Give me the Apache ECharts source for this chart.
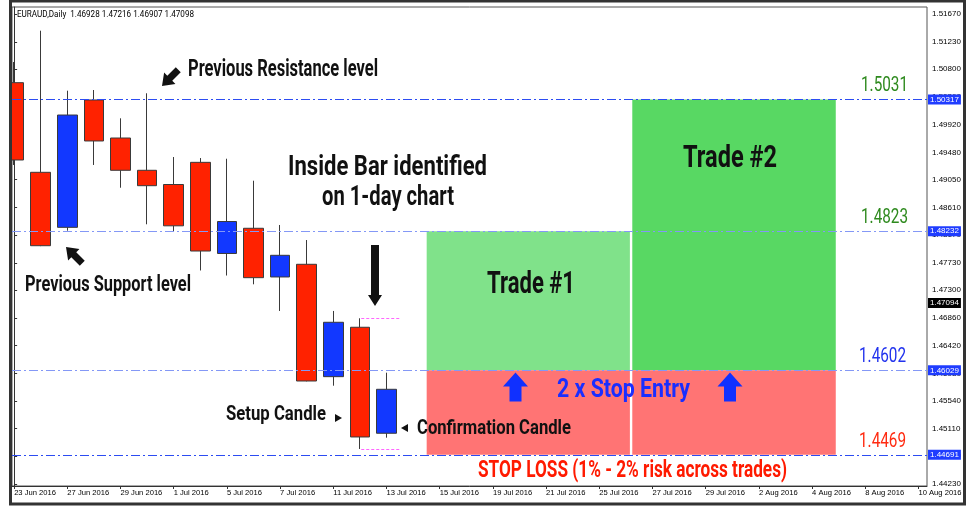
<!DOCTYPE html>
<html>
<head>
<meta charset="utf-8">
<title>EURAUD Daily - Inside Bar</title>
<script src="https://cdn.jsdelivr.net/npm/echarts@6/dist/echarts.min.js"></script>
<style>
  html, body { margin: 0; padding: 0; background: #fff; }
  #chart { width: 967px; height: 506px; }
</style>
</head>
<body>
<div id="chart"></div>
<script>
// trading days on the time axis (one slot per day, labels every 2nd day)
const dates = [
  '23 Jun 2016', '24 Jun 2016', '27 Jun 2016', '28 Jun 2016', '29 Jun 2016', '30 Jun 2016',
  '1 Jul 2016', '4 Jul 2016', '5 Jul 2016', '6 Jul 2016', '7 Jul 2016', '8 Jul 2016',
  '11 Jul 2016', '12 Jul 2016', '13 Jul 2016', '14 Jul 2016', '15 Jul 2016', '18 Jul 2016',
  '19 Jul 2016', '20 Jul 2016', '21 Jul 2016', '22 Jul 2016', '25 Jul 2016', '26 Jul 2016',
  '27 Jul 2016', '28 Jul 2016', '29 Jul 2016', '1 Aug 2016', '2 Aug 2016', '3 Aug 2016',
  '4 Aug 2016', '5 Aug 2016', '8 Aug 2016', '9 Aug 2016', '10 Aug 2016'
];

// daily candles: [open, close, low, high]
const candles = [
  [1.50583, 1.49359, 1.49280, 1.50910],
  [1.49164, 1.48002, 1.47995, 1.51406],
  [1.48293, 1.50071, 1.48240, 1.50456],
  [1.50309, 1.49660, 1.49280, 1.50467],
  [1.49707, 1.49196, 1.48920, 1.50019],
  [1.49196, 1.48952, 1.48341, 1.50415],
  [1.48971, 1.48317, 1.48227, 1.49406],
  [1.49322, 1.47918, 1.47610, 1.49390],
  [1.47879, 1.48385, 1.47530, 1.49379],
  [1.48278, 1.47496, 1.47391, 1.49031],
  [1.47507, 1.47850, 1.46969, 1.48330],
  [1.47708, 1.45860, 1.45855, 1.48092],
  [1.45929, 1.46790, 1.45786, 1.46969],
  [1.46711, 1.44974, 1.44784, 1.46853],
  [1.45033, 1.45729, 1.44963, 1.45992]
];

// price scale tick labels
const priceTicks = [
  1.51670, 1.51230, 1.50800, 1.50360, 1.49920, 1.49480, 1.49050, 1.48610, 1.48170,
  1.47730, 1.47300, 1.46860, 1.46420, 1.45980, 1.45540, 1.45110, 1.44670, 1.44230
];

// horizontal levels: resistance/target 2, support/target 1, entry, stop loss
const levelValues = [1.50317, 1.48232, 1.46029, 1.44691];
const levelTexts = ['1.5031', '1.4823', '1.4602', '1.4469'];
const currentPrice = 1.47094;
const setupIndex = 13;

// trade boxes along the time axis (in day slots)
const trade1Span = [15.51, 23.15];
const trade2Span = [23.24, 30.89];

const lineColors = ['#2c4cf2', '#8498f6', '#8498f6', '#2c4cf2'];
const textColors = ['#2e8a1e', '#2e8a1e', '#2233ee', '#ff2a10'];

const chart = echarts.init(document.getElementById('chart'), null, { renderer: 'canvas' });

const dayTicks = dates.map((d, i) => i).filter(i => i % 2 === 0);
const setupHigh = candles[setupIndex][3];
const setupLow = candles[setupIndex][2];

const pinkLine = { color: '#ff66ff', type: [3, 2], width: 1 };
const priceBox = (v, bg) => ({
  show: true, position: 'end', distance: 1, formatter: v.toFixed(5),
  backgroundColor: bg, color: '#fff', fontSize: 8, fontFamily: 'Liberation Sans',
  padding: [1, 2, 1, 2]
});

const option = {
  animation: false,
  grid: {
    left: 12, right: 40, top: 7, bottom: 20,
    show: true, borderColor: '#555', borderWidth: 1
  },
  xAxis: {
    type: 'value', min: -0.08, max: 34.32,
    splitLine: { show: false },
    axisLine: { lineStyle: { color: '#333' } },
    axisTick: { customValues: dayTicks, length: 3, lineStyle: { color: '#333' } },
    axisLabel: {
      customValues: dayTicks, formatter: v => dates[v], align: 'left',
      fontSize: 7.6, fontFamily: 'Liberation Sans', color: '#000', margin: 3
    }
  },
  yAxis: {
    type: 'value', position: 'right', min: 1.44198, max: 1.51781,
    splitLine: { show: false },
    axisLine: { show: true, lineStyle: { color: '#333' } },
    axisTick: { show: true, customValues: priceTicks, length: 3, lineStyle: { color: '#333' } },
    axisLabel: {
      customValues: priceTicks, formatter: v => v.toFixed(5),
      fontSize: 8, fontFamily: 'Liberation Sans', color: '#000', margin: 5
    }
  },
  series: [
    {
      type: 'candlestick',
      data: candles.map((c, i) => [i, c[0], c[1], c[2], c[3]]),
      encode: { x: 0, y: [1, 2, 3, 4] },
      barWidth: 20,
      clip: true,
      itemStyle: {
        color: '#1238ff', color0: '#ff2200',
        borderColor: '#3a3a3a', borderColor0: '#3a3a3a', borderWidth: 1
      }
    },
    {
      type: 'line', data: [], silent: true,
      markArea: {
        silent: true,
        data: [
          [{ xAxis: trade1Span[0], yAxis: levelValues[1], itemStyle: { color: '#80e28a' } },
           { xAxis: trade1Span[1], yAxis: levelValues[2] }],
          [{ xAxis: trade2Span[0], yAxis: levelValues[0], itemStyle: { color: '#58d863' } },
           { xAxis: trade2Span[1], yAxis: levelValues[2] }],
          [{ xAxis: trade1Span[0], yAxis: levelValues[2], itemStyle: { color: '#ff7474' } },
           { xAxis: trade1Span[1], yAxis: levelValues[3] }],
          [{ xAxis: trade2Span[0], yAxis: levelValues[2], itemStyle: { color: '#ff7474' } },
           { xAxis: trade2Span[1], yAxis: levelValues[3] }]
        ]
      },
      markLine: {
        silent: true, symbol: 'none', precision: 5,
        data: levelValues.map((v, i) => ({
          yAxis: v,
          lineStyle: { color: lineColors[i], type: [9, 3, 2, 3], width: 1 },
          label: priceBox(v, '#1f3cff')
        })).concat([
          { yAxis: currentPrice, lineStyle: { color: 'rgba(0,0,0,0)', width: 0 }, label: priceBox(currentPrice, '#000') },
          [{ coord: [setupIndex + 0.05, setupHigh], lineStyle: pinkLine, label: { show: false } },
           { coord: [setupIndex + 1.55, setupHigh] }],
          [{ coord: [setupIndex + 0.05, setupLow], lineStyle: pinkLine, label: { show: false } },
           { coord: [setupIndex + 1.55, setupLow] }]
        ])
      }
    }
  ]
};

chart.setOption(option);

// annotations: condensed headline text, squeezed to the widths in the picture
const ctx = document.createElement('canvas').getContext('2d');
const FONT = 'Roboto, "Liberation Sans", sans-serif';

function note(text, x, y, width, size, color, align, weight) {
  weight = weight || 'bold';
  ctx.font = weight + ' ' + size + 'px ' + FONT;
  const sx = width / ctx.measureText(text).width;
  return {
    type: 'text', x: x, y: y, scaleX: sx, z: 100, silent: true,
    style: {
      text: text, fill: color, align: align || 'left', verticalAlign: 'middle',
      fontSize: size, fontFamily: FONT, fontWeight: weight
    }
  };
}

function arrow(x, y, rot, L, hw, hl, sw, color) {
  return {
    type: 'polygon', x: x, y: y, rotation: rot, z: 100, silent: true,
    shape: { points: [[0, 0], [hw, hl], [sw, hl], [sw, L], [-sw, L], [-sw, hl], [-hw, hl]] },
    style: { fill: color }
  };
}

const graphics = [
  // the first candle is cut by the left edge of the chart window
  { type: 'rect', z: 150, silent: true, shape: { x: 0, y: 0, width: 11.5, height: 506 },
    style: { fill: '#fff' } },
  { type: 'rect', z: 200, silent: true, shape: { x: 10.5, y: 1, width: 954, height: 503 },
    style: { fill: null, stroke: '#333', lineWidth: 3 } },
  note('EURAUD,Daily  1.46928 1.47216 1.46907 1.47098', 17, 14.5, 177, 9, '#000', 'left', 'normal'),
  note('Previous Resistance level', 188, 70, 190, 23, '#111'),
  note('Previous Support level', 25, 285, 166, 22, '#111'),
  note('Inside Bar identified', 387.5, 168, 199, 27, '#111', 'center'),
  note('on 1-day chart', 388, 198, 132, 27, '#111', 'center'),
  note('Trade #1', 531, 285, 88, 32, '#111', 'center'),
  note('Trade #2', 730, 159, 94, 32, '#111', 'center'),
  note('2 x Stop Entry', 557, 391, 133, 25, '#1a2eff'),
  note('Setup Candle', 226, 415, 100, 21, '#111'),
  note('Confirmation Candle', 417, 429, 154, 21, '#111'),
  note('STOP LOSS (1% - 2% risk across trades)', 478, 471, 309, 23, '#ff1a00'),
  arrow(162, 86, Math.PI * 3 / 4, 23, 8, 11, 3.5, '#111'),
  arrow(66, 247, Math.PI / 4, 23, 8, 11, 3.5, '#111'),
  arrow(375, 306, Math.PI, 61, 7, 11, 4, '#111'),
  arrow(515.5, 372.5, 0, 29, 12.5, 14, 6, '#1030ff'),
  arrow(730, 372.5, 0, 29, 12.5, 14, 6, '#1030ff'),
  { type: 'polygon', z: 100, silent: true, shape: { points: [[335, 414], [342, 418], [335, 422]] }, style: { fill: '#111' } },
  { type: 'polygon', z: 100, silent: true, shape: { points: [[408, 424], [401, 428], [408, 432]] }, style: { fill: '#111' } }
];

levelValues.forEach((v, i) => {
  const py = chart.convertToPixel({ yAxisIndex: 0 }, v);
  graphics.push(note(levelTexts[i], i < 2 ? 908 : 906, py - 13, 47, 20, textColors[i], 'right', 'normal'));
});

chart.setOption({ graphic: graphics });
</script>
</body>
</html>
